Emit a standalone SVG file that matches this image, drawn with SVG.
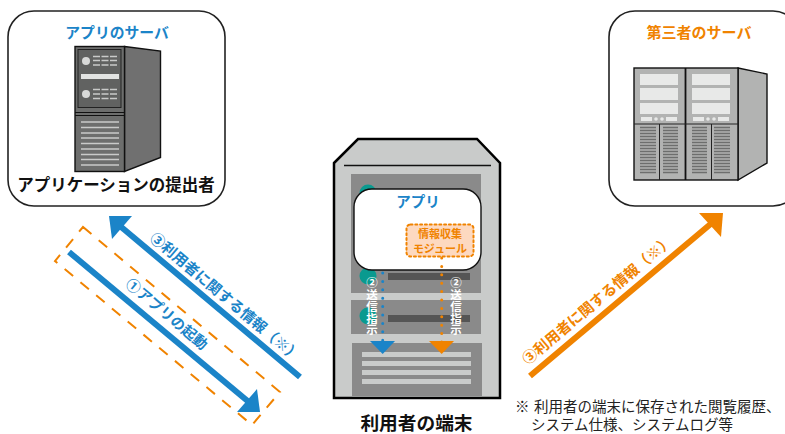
<svg xmlns="http://www.w3.org/2000/svg" width="785" height="434" viewBox="0 0 785 434">
<style>
text{font-family:"Noto Sans CJK JP","Noto Sans",sans-serif;text-anchor:middle}
.b{font-weight:700}
.blue{fill:#1b84c8}
.or{fill:#f08300}
.card{fill:#fff;stroke:#222;stroke-width:1.6}
.blk{fill:#111}
.halo{paint-order:stroke;stroke:#fff;stroke-width:2.5;stroke-linejoin:round}
.lb{stroke:#1b84c8;stroke-width:6;fill:none}
.lo{stroke:#f08300;stroke-width:6;fill:none}
.vent{stroke:#c9cac9;stroke-width:1.6}
.vent2{stroke:#6d6e6d;stroke-width:1.5}
.lt{fill:#c9cbca}
.wt{fill:#fff;font-size:11.500px;font-weight:700;writing-mode:vertical-rl;text-anchor:start;letter-spacing:.3px}
.note{font-size:14.500px;text-anchor:start;fill:#222}
.dot{stroke-width:3;stroke-dasharray:0 8.400;stroke-linecap:round;fill:none}
</style>
<g id="app-server">
<rect class="card" x="8" y="11" width="217" height="195" rx="26"/>
<text class="b blue" x="117" y="38" font-size="14.8">アプリのサーバ</text>
<path d="M124.500 46.500L160.500 51V157.500L124.500 171.500Z" fill="#707070" stroke="#111" stroke-width="1.4"/>
<rect x="75" y="46.500" width="49.500" height="125" fill="#6d6e6d" stroke="#111" stroke-width="1.400"/>
<rect x="78" y="49.500" width="43" height="58" fill="#616261" stroke="#222" stroke-width="1"/>
<path d="M75 112.500H124.500M75 115.500H124.500" stroke="#111" stroke-width="1"/>
<rect x="81" y="74" width="38" height="5" fill="#e2e3e2"/>
<circle cx="86" cy="61" r="4" fill="#d8d9d8"/><circle cx="86" cy="94" r="4" fill="#d8d9d8"/>
<path class="vent" stroke-dasharray="7 1.500" d="M93 56.500H118M93 60.500H118M93 65H118M93 89.500H118M93 94H118M93 98.500H118"/>
<path class="vent" d="M81 122H119M81 127.500H119M81 133H119M81 138H119M81 143.500H119M81 149H119M81 154.500H119M81 159.500H119M81 165H119"/>
<text class="b blk" x="116" y="191" font-size="16.500">アプリケーションの提出者</text>
</g>
<g id="third-server">
<rect class="card" x="609" y="11" width="190" height="195" rx="26"/>
<text class="b or" x="699" y="38" font-size="15">第三者のサーバ</text>
<path d="M738 68L767 74V163L738 180Z" fill="#b2b3b2" stroke="#111" stroke-width="1.400"/>
<rect x="634" y="68" width="104" height="112" fill="#b2b3b2" stroke="#111" stroke-width="1.400"/>
<path d="M685.500 68V180" stroke="#111" stroke-width="1.800"/>
<path d="M634 124H738M659.500 124V180M711.500 124V180" stroke="#222" stroke-width="1"/>
<g fill="#e8e9e8">
<rect x="640" y="74" width="38" height="11"/><rect x="640" y="88" width="38" height="12"/><rect x="640" y="103" width="38" height="11"/>
<rect x="692" y="74" width="38" height="11"/><rect x="692" y="88" width="38" height="12"/><rect x="692" y="103" width="38" height="11"/>
<rect x="641" y="117" width="11" height="4"/><rect x="666" y="117" width="11" height="4"/><circle cx="656" cy="119" r="1.800"/><circle cx="662" cy="119" r="1.800"/>
<rect x="693" y="117" width="11" height="4"/><rect x="718" y="117" width="11" height="4"/><circle cx="708" cy="119" r="1.800"/><circle cx="714" cy="119" r="1.800"/>
</g>
<path class="vent2" stroke-dasharray="16 7 15 14 15 7 16 100" d="M640 127.500H730M640 130.500H730M640 133.500H730M640 136.500H730M640 139.500H730M640 142.500H730M640 145.500H730M640 148.500H730M640 151.500H730M640 154.500H730M640 157.500H730M640 160.500H730M640 163.500H730M640 166.500H730M640 169.500H730M640 172.500H730"/>
</g>
<g id="user-terminal">
<path d="M334 163L358 139H477L500 163V398H334Z" fill="#c9cbca" stroke="#000" stroke-width="2.500"/>
<path d="M344 165.500H491" stroke="#111" stroke-width="1.400"/>
<rect x="351" y="174" width="130" height="119" fill="#8a8a8a"/>
<rect x="351" y="300" width="130" height="34" fill="#8a8a8a"/>
<rect x="352" y="343" width="130" height="53" fill="#8a8a8a"/>
<rect x="362" y="352" width="109" height="5" class="lt"/><rect x="362" y="361" width="109" height="5" class="lt"/><rect x="362" y="370" width="109" height="5" class="lt"/><rect x="362" y="379" width="109" height="5" class="lt"/>
<circle cx="368" cy="193" r="8.500" fill="#0a9a8f"/><circle cx="368" cy="276" r="8.500" fill="#0a9a8f"/><circle cx="368" cy="316" r="8.500" fill="#0a9a8f"/>
<rect x="388" y="273" width="82" height="7" fill="#555"/><rect x="388" y="315" width="82" height="7" fill="#555"/>
<rect x="354" y="189" width="127" height="81" rx="18" fill="#fff" stroke="#111" stroke-width="1.400"/>
<text class="b blue" x="418" y="207" font-size="14.500">アプリ</text>
<rect x="406.500" y="224.500" width="67" height="32" rx="4" fill="#fdd9c0" stroke="#f08300" stroke-width="2" stroke-dasharray="2 2.800" stroke-linecap="round"/>
<text class="b or" x="440" y="238" font-size="11">情報収集</text>
<text class="b or" x="440" y="252.500" font-size="11">モジュール</text>
<path class="dot" d="M382.700 273V342" stroke="#1b84c8"/>
<path class="dot" d="M441.700 258V342" stroke="#f08300"/>
<path d="M370 341H395L382.700 354Z" fill="#1b84c8"/><path d="M429 341H454L441.700 354Z" fill="#f08300"/>
<text class="wt" x="372" y="277">②送信指示</text>
<text class="wt" x="456" y="277">②送信指示</text>
<text class="b blk" x="416.500" y="430" font-size="18.700">利用者の端末</text>
</g>
<g id="connectors">
<path d="M83 227L280 392L252 425L55 261Z" fill="none" stroke="#f08300" stroke-width="2" stroke-dasharray="11 9.500"/>
<path class="lb" d="M300 377L120 226"/><path d="M109 216H132L112 239Z" class="blue"/>
<path class="lb" d="M69 252L250 403"/><path d="M260 412H237L257 389Z" class="blue"/>
<path class="lo" d="M530 376L713 222"/><path d="M723 213H699L721 237Z" class="or"/>
<text class="b blue halo" font-size="14.700" transform="translate(222 301) rotate(40)">③利用者に関する情報（※）</text>
<text class="b blue halo" font-size="14.500" transform="translate(163.500 318) rotate(40)">①アプリの起動</text>
<text class="b or halo" font-size="14.700" transform="translate(601 304) rotate(-40)">③利用者に関する情報（※）</text>
</g>
<g id="footnote">
<text class="note" y="412"><tspan x="515">※</tspan><tspan x="534">利用者の端末に保存された閲覧履歴、</tspan></text>
<text class="note" y="430"><tspan x="531">システム仕様、</tspan><tspan x="632">システムログ等</tspan></text>
</g>
</svg>
